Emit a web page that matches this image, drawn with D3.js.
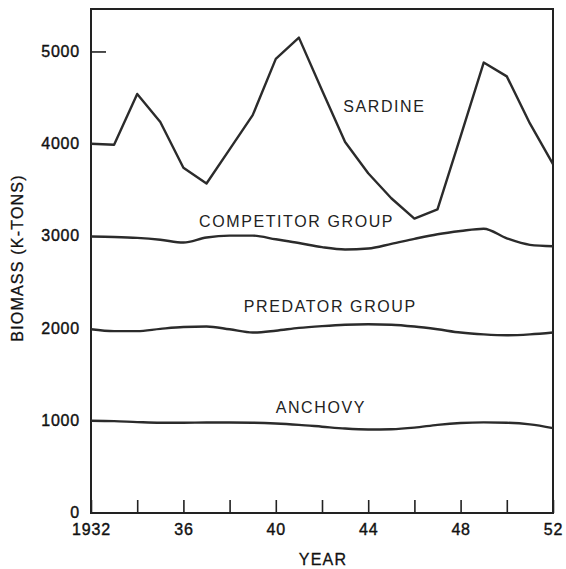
<!DOCTYPE html>
<html>
<head>
<meta charset="utf-8">
<script src="https://cdn.jsdelivr.net/npm/d3@7"></script>
<style>
  body { margin: 0; background: #fff; }
  svg { display: block; font-family: "Liberation Sans", Arial, sans-serif; }
  .lbl { font-size: 16px; fill: #222; letter-spacing: 1.6px; }
  .tick-lbl { font-size: 16px; fill: #111; stroke: #111; stroke-width: 0.4px; letter-spacing: 0.8px; }
  .title { font-size: 16px; fill: #111; stroke: #111; stroke-width: 0.3px; letter-spacing: 1.2px; }
</style>
</head>
<body>
<svg id="chart" width="566" height="569"></svg>
<script>
// Jahre 1932-1952
const years = d3.range(1932, 1953);

// Biomasse (K-Tons)
const sardine = [4000, 3990, 4540, 4235, 3740, 3570, 3940, 4310, 4920, 5150, 4580,
                 4020, 3680, 3410, 3190, 3290, 4080, 4880, 4730, 4220, 3780];
const competitor = [2995, 2990, 2980, 2960, 2930, 2985, 3005, 3005, 2965, 2925, 2880,
                    2855, 2865, 2915, 2970, 3020, 3055, 3080, 2975, 2905, 2890];
const predator = [1990, 1970, 1970, 1995, 2015, 2020, 1990, 1955, 1975, 2005, 2025,
                  2040, 2045, 2040, 2020, 1990, 1955, 1935, 1925, 1935, 1955];
const anchovy = [1000, 995, 985, 978, 978, 980, 980, 978, 970, 955, 935,
                 915, 905, 908, 925, 955, 975, 982, 978, 960, 920];

const yTicks = [0, 1000, 2000, 3000, 4000, 5000];
const xTicks = d3.range(1932, 1953, 2);
const xTickLabels = { 1932: '1932', 1936: '36', 1940: '40', 1944: '44', 1948: '48', 1952: '52' };

// Kurven-Labels: [text, jahr, wert]
const seriesLabels = [
    ['SARDINE', 1944.7, 4345],
    ['COMPETITOR GROUP', 1940.9, 3102],
    ['PREDATOR GROUP', 1942.36, 2181],
    ['ANCHOVY', 1941.95, 1080]
];

const svg = d3.select('#chart');
const margin = { top: 9, right: 13, bottom: 56, left: 91 };
const width = 566 - margin.left - margin.right;
const height = 569 - margin.top - margin.bottom;

const g = svg.append('g')
    .attr('transform', `translate(${margin.left},${margin.top})`);

const xScale = d3.scaleLinear().domain([1932, 1952]).range([0, width]);
const yScale = d3.scaleLinear().domain([0, 5460]).range([height, 0]);

// Rahmen
g.append('rect')
    .attr('x', 0).attr('y', 0)
    .attr('width', width).attr('height', height)
    .style('fill', 'none')
    .style('stroke', '#222')
    .style('stroke-width', 2);

// X-Achse: Ticks nach innen
const xAxis = d3.axisBottom(xScale)
    .tickValues(xTicks)
    .tickSize(-13)
    .tickPadding(22)
    .tickFormat(d => xTickLabels[d] || '');

const xg = g.append('g')
    .attr('transform', `translate(0,${height})`)
    .call(xAxis);
xg.select('.domain').remove();
xg.selectAll('line').style('stroke', '#222').style('stroke-width', 1.6);
xg.selectAll('text').attr('class', 'tick-lbl').attr('dy', '0');

// Y-Achse
const yAxis = d3.axisLeft(yScale)
    .tickValues(yTicks)
    .tickSize(-15)
    .tickPadding(11)
    .tickFormat(d3.format('d'));

const yg = g.append('g').call(yAxis);
yg.select('.domain').remove();
// nur der 5000er-Strich ist sichtbar, die anderen liegen unter den Kurven
yg.selectAll('.tick line').filter(d => d !== 5000).remove();
yg.selectAll('line').style('stroke', '#222').style('stroke-width', 1.6);
yg.selectAll('text').attr('class', 'tick-lbl').attr('dy', '0.3em');

// Achsentitel
g.append('text')
    .attr('class', 'title')
    .attr('transform', 'rotate(-90)')
    .attr('x', -(258 - margin.top))
    .attr('y', 23 - margin.left)
    .attr('text-anchor', 'middle')
    .text('BIOMASS (K-TONS)');

g.append('text')
    .attr('class', 'title')
    .attr('x', 323 - margin.left)
    .attr('y', height + 52)
    .attr('text-anchor', 'middle')
    .text('YEAR');

// Linien
const straight = d3.line()
    .x((d, i) => xScale(years[i]))
    .y(d => yScale(d));

const smooth = d3.line()
    .x((d, i) => xScale(years[i]))
    .y(d => yScale(d))
    .curve(d3.curveMonotoneX);

[[sardine, straight], [competitor, smooth], [predator, smooth], [anchovy, smooth]]
    .forEach(([values, gen]) => {
        g.append('path')
            .datum(values)
            .attr('d', gen)
            .style('fill', 'none')
            .style('stroke', '#2b2b2b')
            .style('stroke-width', 2.4)
            .style('stroke-linejoin', 'round');
    });

// Beschriftungen
seriesLabels.forEach(([text, yr, val]) => {
    g.append('text')
        .attr('class', 'lbl')
        .attr('x', xScale(yr))
        .attr('y', yScale(val))
        .attr('text-anchor', 'middle')
        .text(text);
});
</script>
</body>
</html>
